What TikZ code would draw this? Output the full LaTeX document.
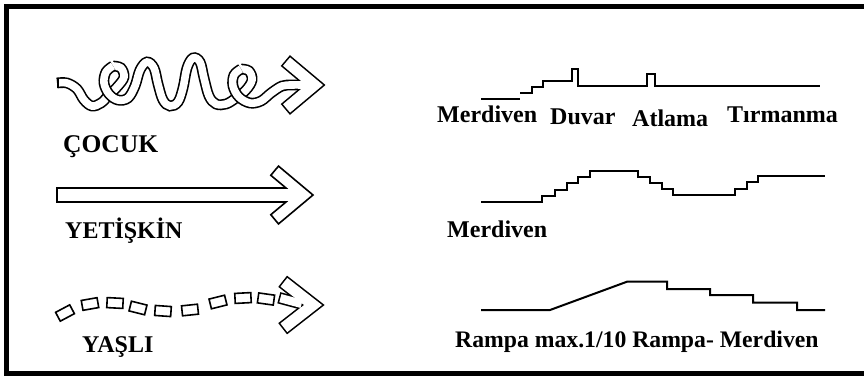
\documentclass[tikz,border=0pt]{standalone}
\usepackage{fontspec}
\setmainfont{Liberation Serif}
\begin{document}
\begin{tikzpicture}[x=1pt,y=-1pt,
  lbl/.style={font=\bfseries\fontsize{24}{28}\selectfont, inner sep=0pt, anchor=base west},
  profile/.style={line width=2pt, line join=miter},
  tube/.style={line width=1.6pt, double=white, double distance=7.6pt},
  outline/.style={line width=1.6pt, line join=miter},
  heavy/.style={line width=3.2pt, line join=miter},
  dashbox/.style={draw, fill=white, line width=1.6pt, rectangle, minimum width=16pt, minimum height=10pt, inner sep=0pt}]

\useasboundingbox (0,0) rectangle (864,376);
\clip (0,0) rectangle (864,376);
\fill[white] (0,0) rectangle (864,376);

% outer frame (its right side lies past the edge)
\draw[line width=5pt] (6.5,6.5) rectangle (890,373.5);

% ---------- child: looping tube with chevron head ----------
\coordinate (aT)  at (323,85);
\coordinate (aU)  at (290.1,57.4);
\coordinate (aUi) at (283.0,65.8);
\coordinate (aI)  at (305.9,85);
\coordinate (aLi) at (283.0,104.2);
\coordinate (aL)  at (290.1,112.6);
\draw[heavy] (aT) -- (aU) -- (aUi) -- (aI) -- (aLi) -- (aL) -- cycle;

\draw[tube] plot[smooth, tension=0.6] coordinates {
  (57,83) (67,83) (77,89) (84,100) (92,106) (101,103) (109,95) (118,86)
  (124,77) (121,68) (113,66)};
\draw[tube] plot[smooth, tension=0.6] coordinates {
  (113,66) (106,72) (104,83) (109,94) (118,100) (128,98) (135,86) (140,70)
  (147,62) (154,68) (158,84) (163,100) (170,106) (178,102) (183,88) (187,68)
  (193,58) (200,62) (204,78) (209,96) (216,104) (226,104) (236,98) (246,90)
  (252,80) (249,71) (241,69)};
\draw[tube] plot[smooth, tension=0.6] coordinates {
  (241,69) (234,75) (233,86) (239,97) (250,103) (261,101) (271,93) (282,86)
  (292,85) (303,85)};
\draw[line width=1.6pt] (57.8,77.6) -- (57.8,88.4);
\fill[white] (aT) -- (aU) -- (aUi) -- (aI) -- (aLi) -- (aL) -- cycle;
% open the mouth where the tube runs into the head
\fill[white] (298,81.2) -- (306,81.2) -- (310,85) -- (306,88.8) -- (298,88.8) -- cycle;

\node[lbl, font=\bfseries\fontsize{25.5}{29}\selectfont] (cocuk) at (63,152) {ÇOCUK};

% ---------- adult: straight hollow arrow ----------
\coordinate (bS1) at (57,188);
\coordinate (bJ1) at (286,188);
\coordinate (bUi) at (270.8,175.3);
\coordinate (bU)  at (278.5,166.1);
\coordinate (bT)  at (313,195);
\coordinate (bL)  at (278.5,223.9);
\coordinate (bLi) at (270.8,214.7);
\coordinate (bJ2) at (286,202);
\coordinate (bS2) at (57,202);
\draw[outline] (bS1) -- (bJ1) -- (bUi) -- (bU) -- (bT) -- (bL) -- (bLi) -- (bJ2) -- (bS2) -- cycle;

\node[lbl] (yetiskin) at (65,238) {YETİŞKİN};

% ---------- elderly: broken arrow of small blocks ----------
\foreach \x/\y/\r [count=\i] in {65/313/28, 90/304/10, 115/303/-3, 138/308/-14,
    163/311/-4, 190/310/6, 218/302/14, 243/298/3, 266/299/-8}
  \node[dashbox, rotate=\r] (s\i) at (\x,\y) {};

\coordinate (cT)  at (322,305);
\coordinate (cU)  at (287.3,277.9);
\coordinate (cUi) at (280.5,286.6);
\coordinate (cI)  at (304.1,305);
\coordinate (cLi) at (280.5,323.4);
\coordinate (cL)  at (287.3,332.1);
\node[draw, line width=3.2pt, rectangle, minimum width=22pt, minimum height=8.4pt,
      inner sep=0pt, outer sep=0pt, rotate=-15] (s10) at (291,301) {};
\draw[heavy] (cT) -- (cU) -- (cUi) -- (cI) -- (cLi) -- (cL) -- cycle;
\fill[white] (cT) -- (cU) -- (cUi) -- (cI) -- (cLi) -- (cL) -- cycle;
\fill[white] (s10.north west) -- (s10.north east) -- (s10.south east) -- (s10.south west) -- cycle;

\node[lbl] (yasli) at (82,352) {YAŞLI};

% ---------- ground profiles ----------
\draw[profile] (481,99.3) -- (520,99.3);
\draw[profile] (520,93.3) -| (531.7,87.3) -| (543.3,81) -| (571.7,69) -| (578.3,86)
  -| (646.7,74) -| (655,86) -- (820,86);
\node[lbl] (merd1) at (437,122) {Merdiven};
\node[lbl] (duvar) at (550,124) {Duvar};
\node[lbl] (atlama) at (632,126) {Atlama};
\node[lbl] (tirm) at (727,122) {Tırmanma};

\draw[profile] (481,201.7) -| (541.7,195.6) -| (555,189.5) -| (566.7,183.4) -| (578.3,177.3)
  -| (590,171) -| (638.3,177) -| (650,183) -| (661.7,189) -| (673.3,195)
  -| (735,188.6) -| (746.7,182.2) -| (758.3,175.7) -- (825,175.7);
\node[lbl] (merd2) at (447,237) {Merdiven};

\draw[profile] (481,310) -- (550,310) -- (627,281.7) -| (667,289) -| (710,295)
  -| (753,302.7) -| (797,310) -- (825,310);
\node[lbl, font=\bfseries\fontsize{23.7}{28}\selectfont] (rampa) at (455,347) {Rampa max.1/10 Rampa- Merdiven};

\end{tikzpicture}
\end{document}
